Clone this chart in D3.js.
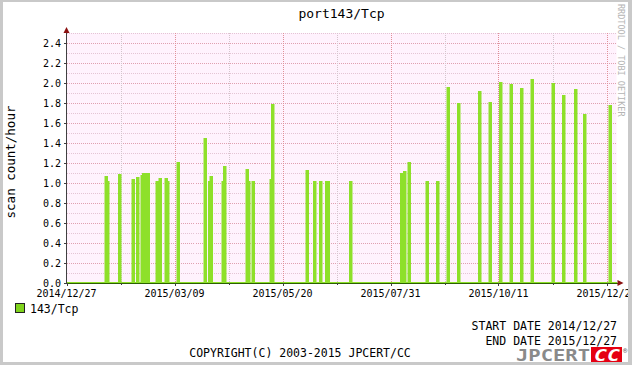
<!DOCTYPE html>
<html><head><meta charset="utf-8">
<script src="https://cdn.jsdelivr.net/npm/d3@7"></script>
<style>
body{margin:0;background:#fff}
svg{display:block}
text{font-family:"DejaVu Sans Mono",monospace}
</style>
</head><body>
<svg id="c" width="632" height="365"></svg>
<script>
// ---- data ----
const chartTitle = "port143/Tcp";
const seriesName = "143/Tcp";
const yAxisTitle = "scan count/hour";
const startDate = "2014-12-27";
const endDate = "2015-12-27";
// days since start date on which scans were recorded, and the value of each day
const dayOffsets = [26,27,35,44,47,50,51,52,53,54,60,62,66,67,74,
  92,95,96,104,105,120,121,124,136,137,160,165,169,173,174,189,
  223,224,225,228,240,247,254,261,275,282,289,296,303,310,324,331,339,345,362];
const scanValues = [1.06,1.01,1.08,1.03,1.05,1.07,1.09,1.01,1.09,1.09,1.01,1.04,1.04,1.01,1.20,
  1.44,1.01,1.06,1.01,1.16,1.13,1.01,1.01,1.03,1.78,1.12,1.01,1.01,1.01,1.01,1.01,
  1.09,1.01,1.11,1.20,1.01,1.01,1.95,1.79,1.91,1.80,2.00,1.98,1.94,2.03,1.99,1.87,1.93,1.68,1.77];
const yTickValues = [0,0.2,0.4,0.6,0.8,1.0,1.2,1.4,1.6,1.8,2.0,2.2,2.4];
const yMinorValues = [0.1,0.3,0.5,0.7,0.9,1.1,1.3,1.5,1.7,1.9,2.1,2.3,2.5];
const xLabelDays = [0,72,144,216,288,360];
const xMinorDays = [36,108,180,252,324];

// ---- layout ----
const svg = d3.select("#c");
const L = 66.5, R = 616.5, T = 33, B = 283;
const start = d3.utcParse("%Y-%m-%d")(startDate);
const end = d3.utcParse("%Y-%m-%d")(endDate);
const viewEnd = d3.utcHour.offset(d3.utcDay.offset(start, 366), 16);
const x = d3.scaleUtc().domain([start, viewEnd]).range([L, R]);
const y = d3.scaleLinear().domain([0, 2.5]).range([B, T]);
const fmt = d3.utcFormat("%Y/%m/%d");

// canvas
svg.append("rect").attr("width",632).attr("height",365).attr("fill","#ffffff");

// plot background
svg.append("rect").attr("x",L).attr("y",T).attr("width",R-L).attr("height",B-T).attr("fill","#fff2fd");

const grid = svg.append("g").attr("shape-rendering","crispEdges");
grid.selectAll(".hm").data(yMinorValues).join("line")
  .attr("x1",L).attr("x2",R).attr("y1",d=>Math.round(y(d))+0.5).attr("y2",d=>Math.round(y(d))+0.5)
  .attr("stroke","#e4c4d4").attr("stroke-dasharray","1,1");
grid.selectAll(".hM").data(yTickValues.filter(d=>d>0)).join("line")
  .attr("x1",L).attr("x2",R).attr("y1",d=>Math.round(y(d))+0.5).attr("y2",d=>Math.round(y(d))+0.5)
  .attr("stroke","#e0a0b0").attr("stroke-dasharray","1,1");
grid.selectAll(".vm").data(xMinorDays).join("line")
  .attr("x1",d=>Math.round(x(d3.utcDay.offset(start,d)))+0.5).attr("x2",d=>Math.round(x(d3.utcDay.offset(start,d)))+0.5)
  .attr("y1",T).attr("y2",B).attr("stroke","#d4c4cc").attr("stroke-dasharray","1,1");
grid.selectAll(".vM").data(xLabelDays.filter(d=>d>0)).join("line")
  .attr("x1",d=>Math.round(x(d3.utcDay.offset(start,d)))+0.5).attr("x2",d=>Math.round(x(d3.utcDay.offset(start,d)))+0.5)
  .attr("y1",T).attr("y2",B).attr("stroke","#e09098").attr("stroke-dasharray","1,1");

// daily series
const valueByDay = new Map(dayOffsets.map((d,i)=>[d,scanValues[i]]));
const nDays = d3.utcDay.count(start, end) + 2;
const daily = d3.range(0, nDays+1).map(d=>({date:d3.utcDay.offset(start,d), v: valueByDay.get(d)||0}));

svg.append("clipPath").attr("id","pc").append("rect").attr("x",L).attr("y",T-5).attr("width",R-L+1).attr("height",B-T+8);
const g = svg.append("g").attr("clip-path","url(#pc)");
const green = "#8ee02a";
g.append("path").datum(daily)
  .attr("d", d3.area().curve(d3.curveStepAfter).x(d=>x(d.date)).y0(y(0)).y1(d=>y(d.v)))
  .attr("fill", green);
g.append("path").datum(daily)
  .attr("d", d3.line().curve(d3.curveStepAfter).x(d=>x(d.date)).y(d=>y(d.v)))
  .attr("fill","none").attr("stroke",green).attr("stroke-width",2);

// axes
const ax = svg.append("g").attr("shape-rendering","crispEdges");
ax.append("line").attr("x1",L).attr("x2",L).attr("y1",T-1).attr("y2",B+1).attr("stroke","#404040");
ax.append("line").attr("x1",L).attr("x2",R+2).attr("y1",B+0.5).attr("y2",B+0.5).attr("stroke","#2a6000");
ax.selectAll(".yt").data(yTickValues).join("line")
  .attr("x1",L-3).attr("x2",L).attr("y1",d=>Math.round(y(d))+0.5).attr("y2",d=>Math.round(y(d))+0.5).attr("stroke","#404040");
ax.selectAll(".xt").data(xLabelDays).join("line")
  .attr("x1",d=>Math.round(x(d3.utcDay.offset(start,d)))+0.5).attr("x2",d=>Math.round(x(d3.utcDay.offset(start,d)))+0.5)
  .attr("y1",B).attr("y2",B+3).attr("stroke","#404040");
ax.selectAll(".xm").data(xMinorDays).join("line")
  .attr("x1",d=>Math.round(x(d3.utcDay.offset(start,d)))+0.5).attr("x2",d=>Math.round(x(d3.utcDay.offset(start,d)))+0.5)
  .attr("y1",B).attr("y2",B+2).attr("stroke","#404040");
svg.append("path").attr("d",`M${L-3},${T} L${L+3},${T} L${L},${T-6} Z`).attr("fill","#8b1010");
svg.append("path").attr("d",`M${R+1},${B-3} L${R+1},${B+3} L${R+7},${B} Z`).attr("fill","#8b1010");

// tick labels (clipped at the canvas frame like the original)
svg.append("clipPath").attr("id","cv").append("rect").attr("x",3).attr("y",2).attr("width",625).attr("height",360);
const tl = svg.append("g").attr("clip-path","url(#cv)");
tl.selectAll(".yl").data(yTickValues).join("text")
  .attr("x",61).attr("y",d=>y(d)).attr("dy","0.35em").attr("text-anchor","end")
  .attr("font-size",10).attr("fill","#000").text(d=>d.toFixed(1));
tl.selectAll(".xl").data(xLabelDays).join("text")
  .attr("x",d=>x(d3.utcDay.offset(start,d))).attr("y",297).attr("text-anchor","middle")
  .attr("font-size",10).attr("fill","#000").text(d=>fmt(d3.utcDay.offset(start,d)));

// title
svg.append("text").attr("x",(L+R)/2).attr("y",18).attr("text-anchor","middle")
  .attr("font-size",13).attr("fill","#000").text(chartTitle);
svg.append("text").attr("transform",`translate(15,${(T+B)/2+4}) rotate(-90)`).attr("text-anchor","middle")
  .attr("font-size",12.5).attr("fill","#000").text(yAxisTitle);
svg.append("text").attr("transform","translate(618,4) rotate(90)").attr("font-size",8.5)
  .attr("fill","#b4b4b4").text("RRDTOOL / TOBI OETIKER");

// legend
svg.append("rect").attr("x",15.5).attr("y",303.5).attr("width",9).attr("height",9)
  .attr("fill","#7fd31c").attr("stroke","#222");
svg.append("text").attr("x",30).attr("y",313).attr("font-size",11.5).attr("fill","#000").text(seriesName);

svg.append("text").attr("x",617).attr("y",330).attr("text-anchor","end").attr("font-size",11.5)
  .attr("fill","#000").text("START DATE " + fmt(start));
svg.append("text").attr("x",617).attr("y",345).attr("text-anchor","end").attr("font-size",11.5)
  .attr("fill","#000").text("END DATE " + fmt(end));
svg.append("text").attr("x",300).attr("y",357).attr("text-anchor","middle").attr("font-size",11.5)
  .attr("fill","#000").text("COPYRIGHT(C) 2003-2015 JPCERT/CC");

// logo
svg.append("text").attr("x",516).attr("y",361).attr("font-family","Liberation Serif").attr("font-weight","bold")
  .attr("font-size",16).attr("fill","#8a8a8a").attr("textLength",74).attr("lengthAdjust","spacingAndGlyphs").text("JPCERT");
svg.append("rect").attr("x",591).attr("y",347).attr("width",31).attr("height",15).attr("fill","#e50012");
svg.append("text").attr("x",594).attr("y",361).attr("font-family","Liberation Serif").attr("font-weight","bold")
  .attr("font-style","italic").attr("font-size",16).attr("fill","#fff").attr("textLength",26)
  .attr("lengthAdjust","spacingAndGlyphs").text("CC");
svg.append("text").attr("x",623).attr("y",353).attr("font-family","Liberation Sans").attr("font-size",7)
  .attr("fill","#555").text("®");

// frame drawn on top
const frame = svg.append("g").attr("fill","#c9c9c9");
frame.append("rect").attr("x",0).attr("y",0).attr("width",632).attr("height",2);
frame.append("rect").attr("x",0).attr("y",362).attr("width",632).attr("height",3);
frame.append("rect").attr("x",0).attr("y",0).attr("width",3).attr("height",365);
frame.append("rect").attr("x",628).attr("y",0).attr("width",4).attr("height",365);
</script>
</body></html>
